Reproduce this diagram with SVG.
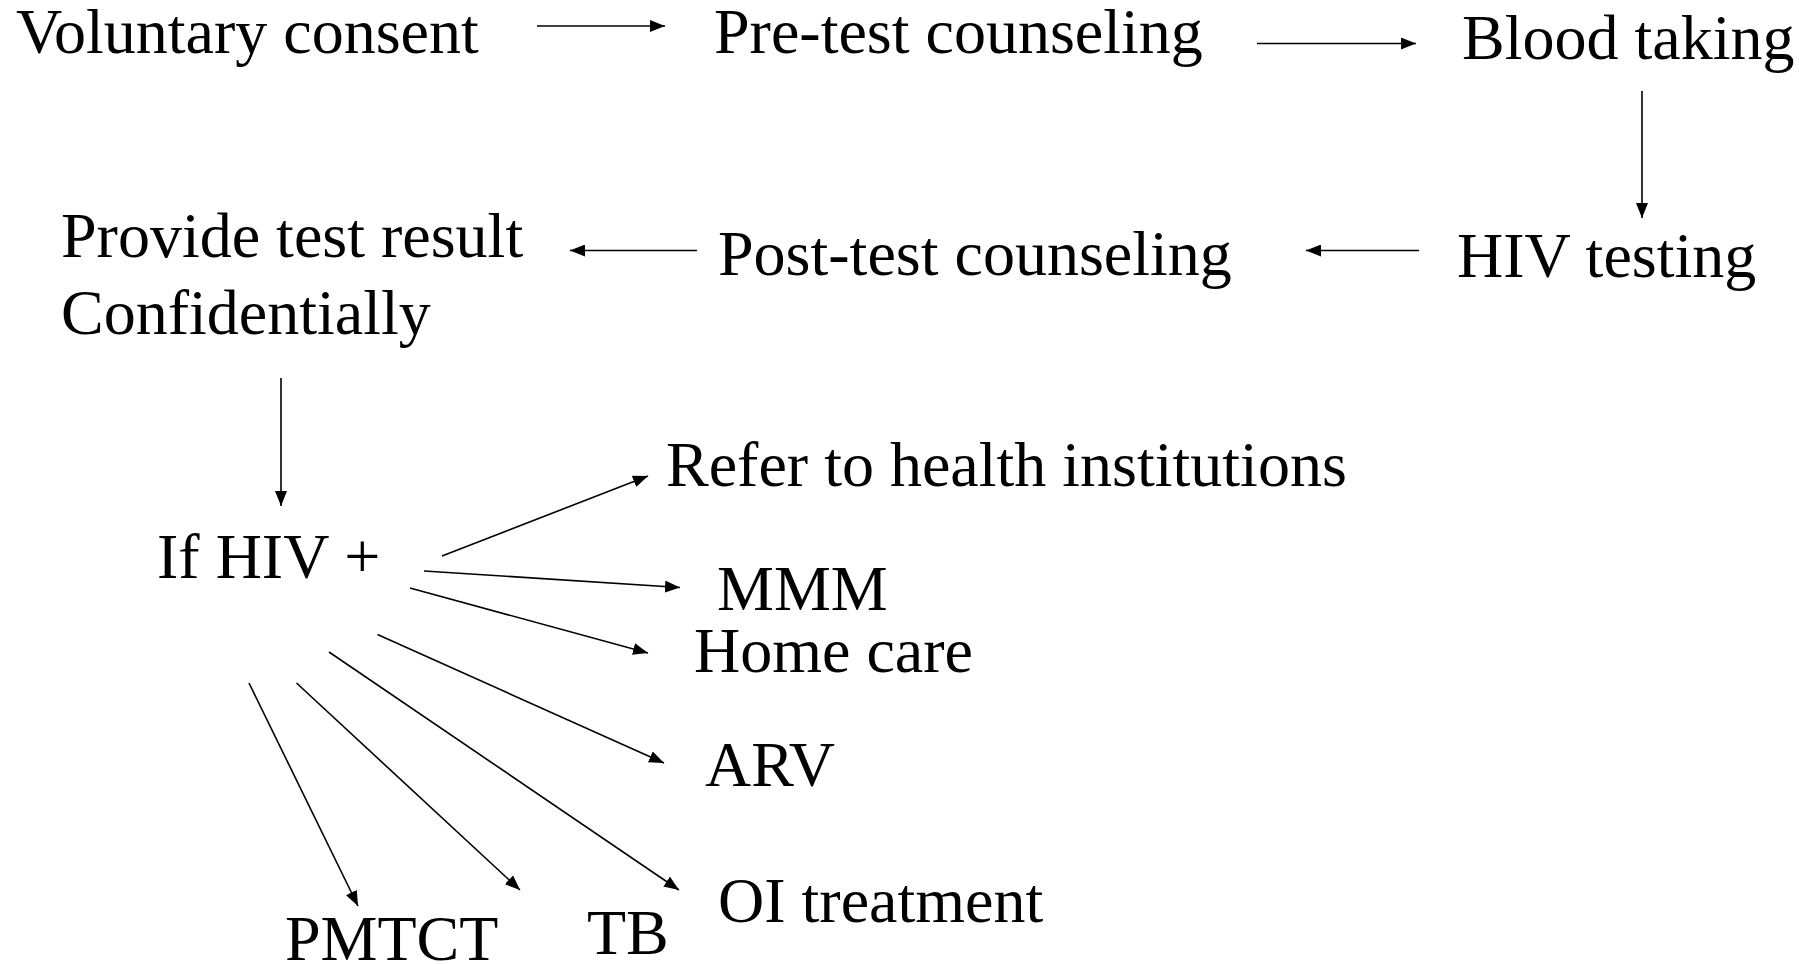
<svg xmlns="http://www.w3.org/2000/svg" width="1799" height="964" viewBox="0 0 1799 964">
<defs>
<style>
text{font-family:"Liberation Serif","Times New Roman",serif;font-size:64px;fill:#000}
.c line{stroke:#000;stroke-width:1.6;fill:none}
</style>
<marker id="ah" markerUnits="userSpaceOnUse" markerWidth="16" markerHeight="12" viewBox="0 0 16 12" refX="15" refY="6" orient="auto">
<path d="M0,0 L15,6 L0,12 Z" fill="#000"/>
</marker>
</defs>
<rect width="1799" height="964" fill="#fff"/>
<g id="n-voluntary"><text x="16" y="53">Voluntary consent</text></g>
<g id="n-pretest"><text x="714" y="53">Pre-test counseling</text></g>
<g id="n-blood"><text x="1462" y="59">Blood taking</text></g>
<g id="n-hivtest"><text x="1457" y="277">HIV testing</text></g>
<g id="n-posttest"><text x="718" y="275">Post-test counseling</text></g>
<g id="n-provide"><text x="61" y="257">Provide test result</text><text x="61" y="334">Confidentially</text></g>
<g id="n-ifhiv"><text x="157" y="578">If HIV +</text></g>
<g id="n-refer"><text x="666" y="486">Refer to health institutions</text></g>
<g id="n-mmm"><text x="717" y="610">MMM</text></g>
<g id="n-home"><text x="694" y="672">Home care</text></g>
<g id="n-arv"><text x="705" y="786">ARV</text></g>
<g id="n-oi"><text x="718" y="922">OI treatment</text></g>
<g id="n-pmtct"><text x="285" y="960">PMTCT</text></g>
<g id="n-tb"><text x="587" y="954">TB</text></g>
<g id="connectors" class="c">
<line x1="537" y1="26" x2="665" y2="26" marker-end="url(#ah)"/>
<line x1="1257" y1="43.5" x2="1416" y2="43.5" marker-end="url(#ah)"/>
<line x1="1642" y1="91" x2="1642" y2="218" marker-end="url(#ah)"/>
<line x1="1419" y1="250.5" x2="1306" y2="250.5" marker-end="url(#ah)"/>
<line x1="697" y1="250.5" x2="570" y2="250.5" marker-end="url(#ah)"/>
<line x1="281" y1="378" x2="281" y2="506" marker-end="url(#ah)"/>
<line x1="442" y1="556" x2="648" y2="476" marker-end="url(#ah)"/>
<line x1="424" y1="571" x2="680" y2="587.5" marker-end="url(#ah)"/>
<line x1="410" y1="588" x2="648" y2="653" marker-end="url(#ah)"/>
<line x1="377.5" y1="634.5" x2="664" y2="763" marker-end="url(#ah)"/>
<line x1="329" y1="652" x2="679" y2="890" marker-end="url(#ah)"/>
<line x1="296.5" y1="683" x2="520" y2="890" marker-end="url(#ah)"/>
<line x1="249" y1="683" x2="358" y2="906" marker-end="url(#ah)"/>
</g>
</svg>
